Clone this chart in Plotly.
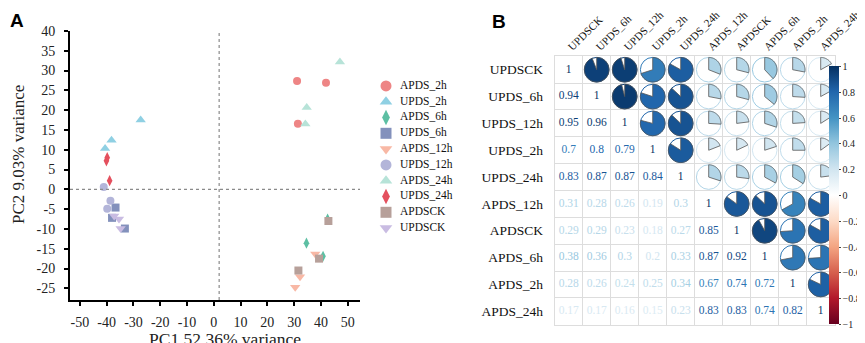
import numpy as np
import plotly.graph_objects as go

W, H = 865, 343

# ---------------- Panel A data (PCA) ----------------
series_names = ["APDS_2h", "UPDS_2h", "APDS_6h", "UPDS_6h", "APDS_12h",
                "UPDS_12h", "APDS_24h", "UPDS_24h", "APDSCK", "UPDSCK"]
pc1 = [
    [31.1, 41.9, 31.4],
    [-27.3, -38.2, -40.6],
    [42.5, 34.6, 40.8],
    [-36.7, -38.0, -33.2],
    [37.9, 32.2, 30.4],
    [-41.1, -38.6, -39.8],
    [47.1, 34.7, 34.2],
    [-40.1, -39.8, -38.9],
    [42.8, 39.3, 31.6],
    [-37.2, -35.4, -34.8],
]
pc2 = [
    [27.4, 26.9, 16.6],
    [17.5, 12.4, 10.3],
    [-7.5, -13.6, -16.9],
    [-4.6, -7.2, -9.9],
    [-16.3, -22.1, -24.7],
    [0.6, -2.9, -4.9],
    [32.2, 20.7, 16.5],
    [7.2, 8.0, 2.2],
    [-8.0, -17.5, -20.5],
    [-6.7, -7.5, -9.9],
]
x_ticks = [-50, -40, -30, -20, -10, 0, 10, 20, 30, 40, 50]
y_ticks = [-25, -20, -15, -10, -5, 0, 5, 10, 15, 20, 25, 30, 35, 40]

# ---------------- Panel B data (correlation) ----------------
corr_labels = ["UPDSCK", "UPDS_6h", "UPDS_12h", "UPDS_2h", "UPDS_24h",
               "APDS_12h", "APDSCK", "APDS_6h", "APDS_2h", "APDS_24h"]
corr_lower = [
    [],
    [0.94],
    [0.95, 0.96],
    [0.7, 0.8, 0.79],
    [0.83, 0.87, 0.87, 0.84],
    [0.31, 0.28, 0.26, 0.19, 0.3],
    [0.29, 0.29, 0.23, 0.18, 0.27, 0.85],
    [0.38, 0.36, 0.3, 0.2, 0.33, 0.87, 0.92],
    [0.28, 0.26, 0.24, 0.25, 0.34, 0.67, 0.74, 0.72],
    [0.17, 0.17, 0.16, 0.15, 0.23, 0.83, 0.83, 0.74, 0.82],
]
cbar_ticks = [1, 0.8, 0.6, 0.4, 0.2, 0, -0.2, -0.4, -0.6, -0.8, -1]
cbar_text = ["1", "0.8", "0.6", "0.4", "0.2", "0", "\u22120.2", "\u22120.4",
             "\u22120.6", "\u22120.8", "\u22121"]

# ---------------- styles ----------------
series_symbols = ["circle", "triangle-up", "diamond-tall", "square", "triangle-down",
                  "circle", "triangle-up", "diamond-tall", "square", "triangle-down"]
series_colors = ["#EE8585", "#8FD0E3", "#5DBFA3", "#8391BC", "#F8B8A5",
                 "#B3B5D9", "#B7E3D8", "#E4505E", "#B7A09A", "#C9BCE2"]
rdbu = ["#67001F", "#B2182B", "#D6604D", "#F4A582", "#FDDBC7", "#FFFFFF",
        "#D1E5F0", "#92C5DE", "#4393C3", "#2166AC", "#053061"]
colorscale = [[k / 10, c] for k, c in enumerate(rdbu)]
SERIF = "Liberation Serif"


def hex2rgb(h):
    h = h.lstrip("#")
    return [int(h[i:i + 2], 16) for i in (0, 2, 4)]


def val_color(v):
    t = (v + 1) / 2 * 10
    k = min(int(np.floor(t)), 9)
    f = t - k
    a, b = hex2rgb(rdbu[k]), hex2rgb(rdbu[k + 1])
    c = [round(a[i] + (b[i] - a[i]) * f) for i in range(3)]
    return "rgb(%d,%d,%d)" % tuple(c)


def px_x(p):
    return p / W


def px_y(p):
    return 1 - p / H


fig = go.Figure()

# ---------------- Panel A ----------------
for name, xs, ys, sym, col in zip(series_names, pc1, pc2, series_symbols, series_colors):
    fig.add_trace(go.Scatter(
        x=xs, y=ys, mode="markers", name=name, showlegend=False,
        marker=dict(symbol=sym, color=col, size=9 if "triangle" in sym else 8,
                    line=dict(width=0)),
        xaxis="x", yaxis="y"))

# custom legend (compact spacing)
fig.add_trace(go.Scatter(
    x=[10] * len(series_names), y=list(range(len(series_names))), mode="markers",
    marker=dict(symbol=series_symbols, color=series_colors, size=11, line=dict(width=0)),
    showlegend=False, hoverinfo="skip", xaxis="x3", yaxis="y3"))
fig.add_trace(go.Scatter(
    x=[24] * len(series_names), y=list(range(len(series_names))), mode="text",
    text=series_names, textposition="middle right",
    textfont=dict(family=SERIF, size=11.5, color="#111"),
    showlegend=False, hoverinfo="skip", xaxis="x3", yaxis="y3"))

# ---------------- Panel B ----------------
n = len(corr_labels)
M = np.eye(n)
for i, row in enumerate(corr_lower):
    for j, v in enumerate(row):
        M[i, j] = v
        M[j, i] = v

R = 12.3
rx, ry = R / 28.0, R / 26.84
shapes = []
for i in range(n):
    for j in range(i + 1, n):
        v = M[i, j]
        cx, cy = j + 0.5, i + 0.5
        col = val_color(v)
        shapes.append(dict(type="circle", xref="x2", yref="y2",
                           x0=cx - rx, x1=cx + rx, y0=cy - ry, y1=cy + ry,
                           line=dict(color=col, width=1), fillcolor="white", layer="above"))
        ang = np.linspace(0, 2 * np.pi * abs(v), 80)
        pts = ["M %.4f,%.4f" % (cx, cy)]
        for a in ang:
            pts.append("L %.4f,%.4f" % (cx + rx * np.sin(a), cy - ry * np.cos(a)))
        pts.append("Z")
        shapes.append(dict(type="path", xref="x2", yref="y2", path=" ".join(pts),
                           fillcolor=col, line=dict(color="#555555", width=0.8),
                           layer="above"))

tx, ty, tt, tc = [], [], [], []
for i in range(n):
    for j in range(i + 1):
        v = M[i, j]
        tx.append(j + 0.5)
        ty.append(i + 0.5)
        tt.append("%g" % v)
        tc.append(val_color(v))
fig.add_trace(go.Scatter(
    x=tx, y=ty, mode="text", text=tt, textfont=dict(family=SERIF, size=11.5, color=tc),
    showlegend=False, hoverinfo="skip", xaxis="x2", yaxis="y2"))

# colorbar
fig.add_trace(go.Scatter(
    x=[None], y=[None], mode="markers", showlegend=False, hoverinfo="skip",
    marker=dict(color=[0], cmin=-1, cmax=1, colorscale=colorscale, showscale=True,
                colorbar=dict(x=px_x(820.5), xanchor="left", xpad=0,
                              y=1 - 187.5 / H, yanchor="middle", len=278.4 / H,
                              lenmode="fraction", thickness=10, outlinewidth=0,
                              tickvals=cbar_ticks, ticktext=cbar_text,
                              ticks="outside", ticklen=2, tickcolor="#444",
                              tickfont=dict(family=SERIF, size=10, color="#222"))),
    xaxis="x2", yaxis="y2"))

# dotted reference lines in panel A
shapes.append(dict(type="line", xref="x domain", yref="y", x0=0, x1=1, y0=0, y1=0,
                   line=dict(color="#8a8a8a", width=1.2, dash="dot")))
shapes.append(dict(type="line", xref="x", yref="y domain", x0=2, x1=2, y0=0, y1=1,
                   line=dict(color="#8a8a8a", width=1.2, dash="dot")))

axis_font = dict(family=SERIF, size=14, color="#222")
fig.update_layout(
    width=W, height=H, paper_bgcolor="white", plot_bgcolor="white",
    margin=dict(l=0, r=0, t=0, b=0, autoexpand=False),
    showlegend=False,
    shapes=shapes,
    xaxis=dict(domain=[px_x(62), px_x(352)], range=[-53.7, 54.6], anchor="y",
               tickvals=x_ticks, ticktext=[str(v) for v in x_ticks],
               showline=True, linewidth=2, linecolor="black", ticks="outside",
               ticklen=4, tickwidth=1.5, tickcolor="black", showgrid=False,
               zeroline=False, tickfont=axis_font, ticklabelstandoff=4),
    yaxis=dict(domain=[px_y(292), px_y(23)], range=[-27.95, 40], anchor="x",
               tickvals=y_ticks, ticktext=[str(v) for v in y_ticks],
               showline=True, linewidth=2, linecolor="black", ticks="outside",
               ticklen=4, tickwidth=1.5, tickcolor="black", showgrid=False,
               zeroline=False, tickfont=axis_font, ticklabelstandoff=6),
    xaxis2=dict(domain=[px_x(546.7), px_x(826.7)], range=[0, n], anchor="y2",
                side="top", tickvals=[k + 0.5 for k in range(n)], ticktext=corr_labels,
                tickangle=-45, ticks="", showgrid=False, zeroline=False,
                showline=True, mirror=True, linecolor="#DDDDDD", linewidth=1,
                minor=dict(dtick=1, tick0=0, showgrid=True, gridcolor="#DDDDDD",
                           gridwidth=1),
                tickfont=dict(family=SERIF, size=11, color="#111"),
                ticklabelstandoff=-2),
    yaxis2=dict(domain=[px_y(316.7), px_y(48.3)], range=[n, 0], anchor="x2",
                tickvals=[k + 0.5 for k in range(n)], ticktext=corr_labels,
                ticks="", showgrid=False, zeroline=False,
                showline=True, mirror=True, linecolor="#DDDDDD", linewidth=1,
                minor=dict(dtick=1, tick0=0, showgrid=True, gridcolor="#DDDDDD",
                           gridwidth=1),
                tickfont=dict(family=SERIF, size=13.5, color="#111"),
                ticklabelstandoff=8),
    xaxis3=dict(domain=[px_x(368), px_x(463)], range=[0, 95], visible=False,
                anchor="y3"),
    yaxis3=dict(domain=[px_y(228), px_y(70)], range=[9.5, -0.5], visible=False,
                anchor="x3"),
    annotations=[
        dict(text="<b>A</b>", x=px_x(0), y=px_y(0), xref="paper", yref="paper",
             xanchor="left", yanchor="top", showarrow=False,
             font=dict(family="Liberation Sans", size=19, color="black")),
        dict(text="<b>B</b>", x=px_x(482), y=px_y(1), xref="paper", yref="paper",
             xanchor="left", yanchor="top", showarrow=False,
             font=dict(family="Liberation Sans", size=19, color="black")),
        dict(text="PC1 52.36% variance", x=px_x(216.7), y=px_y(330.5), xref="paper",
             yref="paper", xanchor="center", yanchor="middle", showarrow=False,
             font=dict(family=SERIF, size=17.5, color="#222")),
        dict(text="PC2 9.03% variance", x=px_x(10), y=px_y(147), xref="paper",
             yref="paper", xanchor="center", yanchor="middle", showarrow=False,
             textangle=-90, font=dict(family=SERIF, size=17, color="#222")),
    ],
)

fig.write_html("out.html")
